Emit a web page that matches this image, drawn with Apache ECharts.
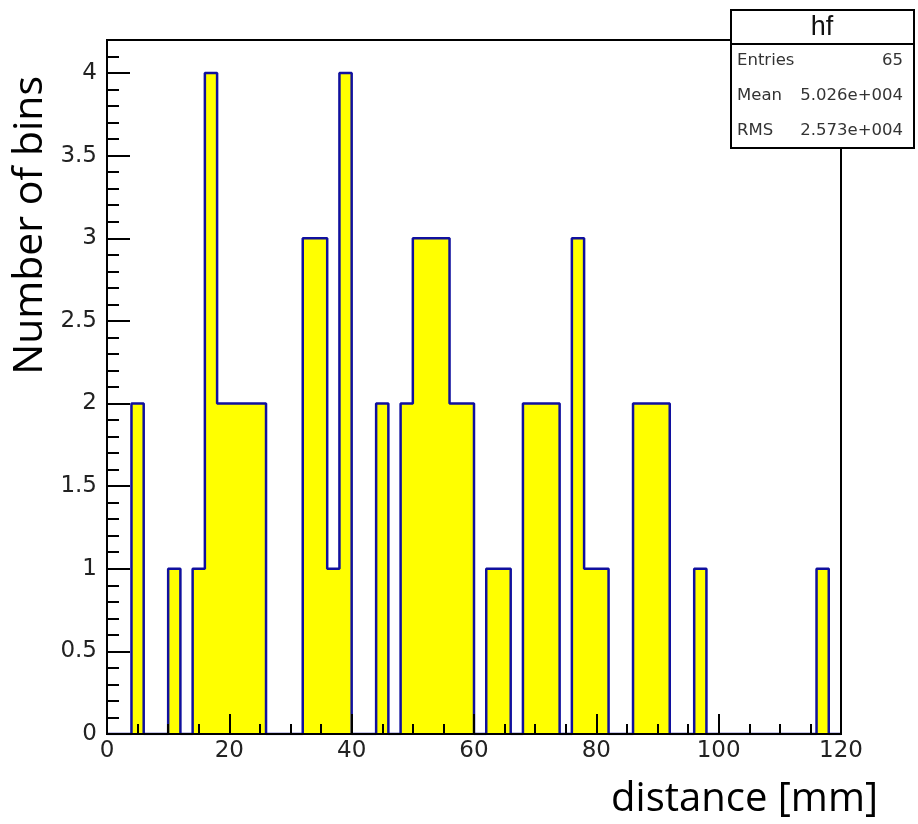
<!DOCTYPE html>
<html>
<head>
<meta charset="utf-8">
<title>hf</title>
<script src="https://cdn.jsdelivr.net/npm/echarts@6/dist/echarts.min.js"></script>
<style>
  html, body { margin: 0; padding: 0; background: #fff; }
  #main { width: 918px; height: 824px; }
</style>
</head>
<body>
<div id="main"></div>
<script>
// histogram hf: 60 bins of 2 mm from 0 to 120
const xMin = 0
const xMax = 120
const binWidth = 2
const counts = [
  0, 0, 2, 0, 0, 1, 0, 1, 4, 2,
  2, 2, 2, 0, 0, 0, 3, 3, 1, 4,
  0, 0, 2, 0, 2, 3, 3, 3, 2, 2,
  0, 1, 1, 0, 2, 2, 2, 0, 3, 1,
  1, 0, 0, 2, 2, 2, 0, 0, 1, 0,
  0, 0, 0, 0, 0, 0, 0, 0, 1, 0
]
const yMax = 4.2
const statNames = ['Entries', 'Mean', 'RMS']
const statValues = ['65', '5.026e+004', '2.573e+004']

// step outline points: one per bin low edge, then close at xMax
let steps = counts.map((c, i) => [xMin + i * binWidth, c])
steps.push([xMax, 0])

let axisFont = { fontFamily: 'DejaVu Sans', fontSize: 23, color: '#222' }
let tickStyle = { color: '#000', width: 2 }

let chart = echarts.init(document.getElementById('main'))
let option = {
  animation: false,
  grid: {
    left: 107, right: 77, top: 40, bottom: 90,
    show: true, borderColor: '#000', borderWidth: 2
  },
  xAxis: [
    {
      type: 'value', min: xMin, max: xMax, interval: 20, position: 'bottom', z: 5,
      axisLine: { lineStyle: { color: '#000', width: 2 } },
      axisTick: { inside: true, length: 20, lineStyle: tickStyle },
      axisLabel: Object.assign({ margin: 6 }, axisFont),
      splitLine: { show: false }
    },
    {
      type: 'value', min: xMin, max: xMax, interval: 5, position: 'bottom', z: 5,
      axisLine: { show: false },
      axisTick: { inside: true, length: 10, lineStyle: tickStyle },
      axisLabel: { show: false },
      splitLine: { show: false }
    }
  ],
  yAxis: [
    {
      type: 'value', min: 0, max: yMax, interval: 0.5, position: 'left', z: 5,
      axisLine: { show: true, lineStyle: { color: '#000', width: 2 } },
      axisTick: { show: true, inside: true, length: 23, lineStyle: tickStyle },
      axisLabel: Object.assign({
        margin: 10,
        formatter: v => (v > 4.1 ? '' : String(v))
      }, axisFont),
      splitLine: { show: false }
    },
    {
      type: 'value', min: 0, max: yMax, interval: 0.1, position: 'left', z: 5,
      axisLine: { show: false },
      axisTick: { show: true, inside: true, length: 12, lineStyle: tickStyle },
      axisLabel: { show: false },
      splitLine: { show: false }
    }
  ],
  series: [{
    type: 'line',
    name: 'hf',
    xAxisIndex: 0,
    yAxisIndex: 0,
    step: 'end',
    symbol: 'none',
    data: steps,
    lineStyle: { color: '#10109e', width: 2.5 },
    areaStyle: { color: '#ffff00', opacity: 1 },
    z: 1
  }],
  graphic: [
    {
      type: 'text', x: 878, y: 800, z: 10,
      style: { text: 'distance [mm]', fontFamily: 'Open Sans', fontSize: 40, fill: '#000', align: 'right', verticalAlign: 'middle' }
    },
    {
      type: 'text', x: 30, y: 76, rotation: Math.PI / 2, z: 10,
      style: { text: 'Number of bins', fontFamily: 'Open Sans', fontSize: 41, fill: '#000', align: 'right', verticalAlign: 'middle' }
    },
    {
      type: 'group', z: 20,
      children: [
        { type: 'rect', shape: { x: 731, y: 10, width: 183, height: 138 }, style: { fill: '#fff', stroke: '#000', lineWidth: 2 } },
        { type: 'line', shape: { x1: 731, y1: 44, x2: 914, y2: 44 }, style: { stroke: '#000', lineWidth: 2 } },
        { type: 'text', x: 822, y: 28, style: { text: 'hf', fontFamily: 'Liberation Sans', fontSize: 27, fill: '#111', align: 'center', verticalAlign: 'middle' } }
      ].concat(statNames.map((n, i) => ({
        type: 'text', x: 737, y: 61 + i * 35,
        style: { text: n, fontFamily: 'DejaVu Sans', fontSize: 16.5, fill: '#333', align: 'left', verticalAlign: 'middle' }
      }))).concat(statValues.map((v, i) => ({
        type: 'text', x: 903, y: 61 + i * 35,
        style: { text: v, fontFamily: 'DejaVu Sans', fontSize: 16.5, fill: '#333', align: 'right', verticalAlign: 'middle' }
      })))
    }
  ]
}
option && chart.setOption(option)
</script>
</body>
</html>
